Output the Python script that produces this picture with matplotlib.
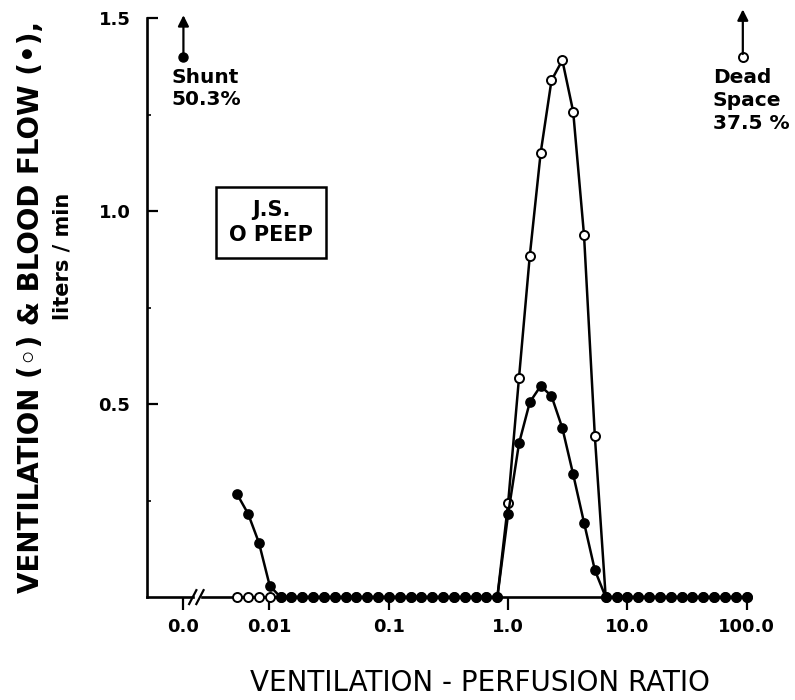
import matplotlib
matplotlib.use("Agg")
import matplotlib.pyplot as plt
from matplotlib.ticker import FixedLocator, NullFormatter

plt.rcParams["font.family"] = ["DejaVu Sans"]

# compartment ventilation-perfusion ratios
vq = [0.00537, 0.00662, 0.00816, 0.01006, 0.0124, 0.0153, 0.0188, 0.0232,
      0.0286, 0.0353, 0.0435, 0.0536, 0.0661, 0.0815, 0.1004, 0.1238,
      0.1527, 0.188, 0.232, 0.286, 0.352, 0.434, 0.536, 0.660,
      0.814, 1.003, 1.236, 1.523, 1.878, 2.315, 2.854, 3.518,
      4.337, 5.346, 6.590, 8.124, 10.01, 12.35, 15.22, 18.76,
      23.12, 28.50, 35.13, 43.31, 53.39, 65.81, 81.13, 100.0]

# ventilation (open circles), liters/min
ventilation = [0, 0, 0, 0, 0, 0, 0, 0, 0, 0, 0, 0, 0, 0, 0, 0,
               0, 0, 0, 0, 0, 0, 0, 0, 0, 0.245, 0.568, 0.885, 1.151, 1.339, 1.391, 1.258,
               0.938, 0.417, 0, 0, 0, 0, 0, 0, 0, 0, 0, 0, 0, 0, 0, 0]

# blood flow (filled circles), liters/min
blood_flow = [0.266, 0.216, 0.141, 0.029, 0, 0, 0, 0, 0, 0, 0, 0, 0, 0, 0, 0,
              0, 0, 0, 0, 0, 0, 0, 0, 0, 0.216, 0.398, 0.505, 0.547, 0.521, 0.438, 0.318,
              0.193, 0.070, 0, 0, 0, 0, 0, 0, 0, 0, 0, 0, 0, 0, 0, 0]

x_ticks = [0.0019, 0.01, 0.1, 1.0, 10.0, 100.0]
x_tick_labels = ["0.0", "0.01", "0.1", "1.0", "10.0", "100.0"]
y_ticks = [0.5, 1.0, 1.5]
y_tick_labels = ["0.5", "1.0", "1.5"]

shunt_text = "Shunt\n50.3%"
dead_space_text = "Dead\nSpace\n37.5 %"
shunt_x = 0.0019
dead_space_x = 93.0

fig = plt.figure(figsize=(7.95, 7.0), dpi=100)
ax = fig.add_axes([0.185, 0.147, 0.7585, 0.827])
ax.set_xscale("log")
ax.set_xlim(0.000942, 107)
ax.set_ylim(0, 1.5)

for side in ("top", "right", "bottom"):
    ax.spines[side].set_visible(False)
ax.spines["left"].set_linewidth(1.9)

# bottom axis line with a break
xt = ax.get_xaxis_transform()
ax.plot([0.000942, 0.0023], [0, 0], color="black", lw=1.9, transform=xt, clip_on=False)
ax.plot([0.0027, 107], [0, 0], color="black", lw=1.9, transform=xt, clip_on=False)
for bx in (0.00228, 0.00262):
    ax.plot([bx * 0.93, bx * 1.07], [-0.012, 0.012], color="black", lw=1.6,
            transform=xt, clip_on=False)

style = dict(color="black", lw=1.8, clip_on=False)
ax.plot(vq, ventilation, marker="o", ms=6.5, mfc="white", mec="black", mew=1.4, **style)
ax.plot(vq, blood_flow, marker="o", ms=6.5, mfc="black", mec="black", mew=1.2, **style)

# shunt and dead space arrows
ax.annotate("", xy=(shunt_x, 1.515), xytext=(shunt_x, 1.40),
            arrowprops=dict(arrowstyle="-|>", color="black", lw=1.6, mutation_scale=16),
            annotation_clip=False)
ax.plot([shunt_x], [1.40], marker="o", ms=6.5, mfc="black", mec="black", clip_on=False)
ax.annotate("", xy=(dead_space_x, 1.53), xytext=(dead_space_x, 1.40),
            arrowprops=dict(arrowstyle="-|>", color="black", lw=1.6, mutation_scale=16),
            annotation_clip=False)
ax.plot([dead_space_x], [1.40], marker="o", ms=6.5, mfc="white", mec="black", mew=1.4,
        clip_on=False)

ax.text(0.00150, 1.37, shunt_text, fontsize=14.5, fontweight="bold", va="top", ha="left",
        linespacing=1.2)
ax.text(52.0, 1.37, dead_space_text, fontsize=14.5, fontweight="bold", va="top", ha="left",
        linespacing=1.25)

ax.text(0.0103, 0.97, "J.S.\nO PEEP", fontsize=15, fontweight="bold", ha="center",
        va="center", linespacing=1.3,
        bbox=dict(boxstyle="square,pad=0.62", fc="white", ec="black", lw=1.8))

ax.xaxis.set_major_locator(FixedLocator(x_ticks))
ax.xaxis.set_minor_formatter(NullFormatter())
ax.xaxis.set_minor_locator(FixedLocator([]))
ax.set_xticklabels(x_tick_labels, fontsize=13, fontweight="bold")
ax.tick_params(axis="x", direction="out", length=9, width=1.6, pad=6)

ax.set_yticks(y_ticks)
ax.set_yticklabels(y_tick_labels, fontsize=13, fontweight="bold")
ax.yaxis.set_minor_locator(FixedLocator([0.25, 0.75, 1.25]))
ax.tick_params(axis="y", which="major", direction="in", length=8, width=1.6, pad=12)
ax.tick_params(axis="y", which="minor", direction="in", length=3, width=1.2)

fig.text(0.039, 0.561, "VENTILATION (\u25e6) & BLOOD FLOW (\u2022),", rotation=90,
         fontsize=20, fontweight="bold", ha="center", va="center")
fig.text(0.079, 0.634, "liters / min", rotation=90, fontsize=15, fontweight="bold",
         ha="center", va="center")
fig.text(0.604, 0.024, "VENTILATION - PERFUSION RATIO", fontsize=20,
         ha="center", va="center")

fig.savefig("out.png", dpi=100)
